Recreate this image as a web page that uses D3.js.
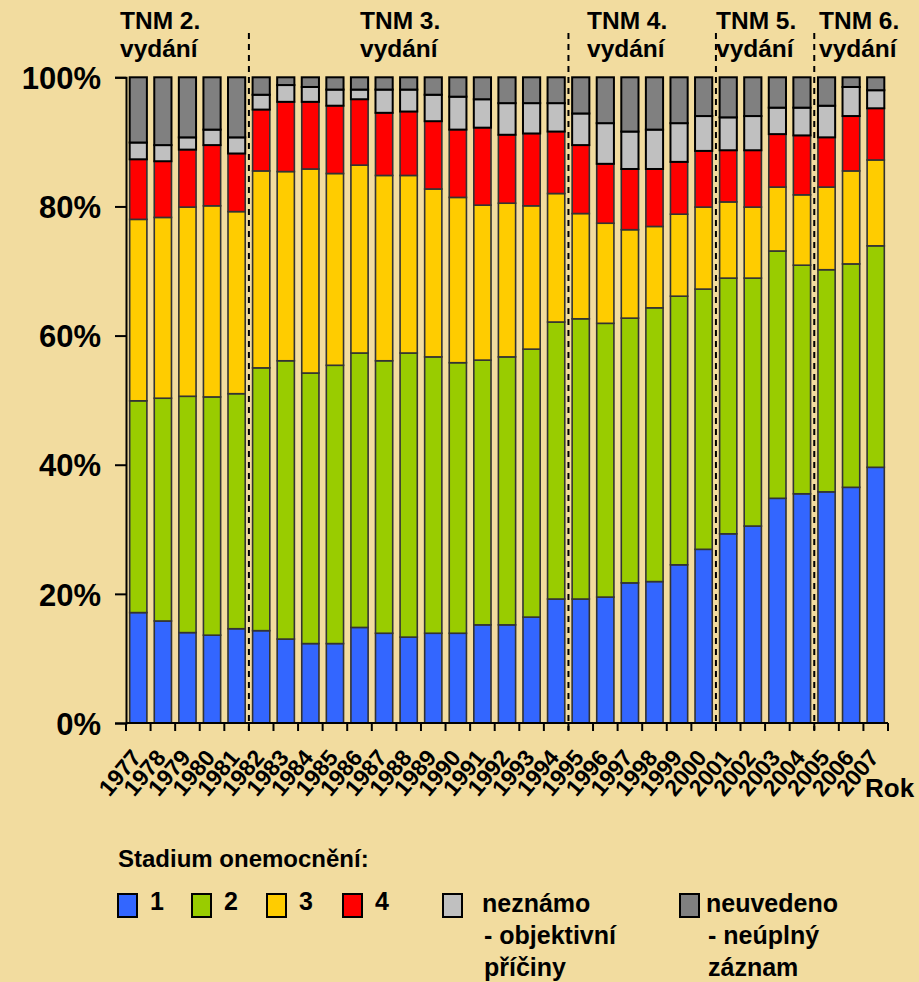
<!DOCTYPE html>
<html>
<head>
<meta charset="utf-8">
<script src="https://cdn.jsdelivr.net/npm/d3@7"></script>
<style>
	body { margin: 0; background: #F2DC9F; }
	svg { display: block; font-family: "Liberation Sans", Arial, sans-serif; }
</style>
</head>
<body>
<div id="chart"></div>
<script>
//years on the x axis
var years = d3.range(1977, 2008).map(String);

//share of each stage per year (percent)
var stage1 = [17.1,15.8,14.0,13.6,14.6,14.3,13.0,12.3,12.3,14.8,13.9,13.3,13.9,13.9,15.2,15.2,16.4,19.2,19.2,19.5,21.7,21.9,24.5,26.9,29.3,30.5,34.8,35.5,35.8,36.5,39.6];
var stage2 = [32.8,34.5,36.6,36.9,36.4,40.7,43.1,41.9,43.1,42.5,42.2,44.0,42.8,41.9,41.0,41.5,41.5,42.9,43.4,42.4,41.0,42.4,41.6,40.3,39.6,38.4,38.3,35.4,34.4,34.6,34.3];
var stage3 = [28.1,28.0,29.3,29.6,28.2,30.5,29.3,31.6,29.7,29.1,28.7,27.5,26.0,25.6,24.0,23.8,22.2,19.9,16.3,15.5,13.7,12.6,12.7,12.7,11.8,11.0,9.9,10.9,12.8,14.4,13.3];
var stage4 = [9.3,8.7,8.9,9.4,9.0,9.5,10.8,10.4,10.5,10.2,9.7,9.9,10.5,10.5,12.0,10.6,11.2,9.6,10.6,9.2,9.4,8.9,8.1,8.7,8.0,8.8,8.2,9.2,7.7,8.5,8.0];
var unknown = [2.6,2.5,1.9,2.4,2.5,2.3,2.6,2.3,2.5,1.5,3.6,3.4,4.1,5.1,4.4,4.9,4.7,4.4,4.9,6.3,5.8,6.1,6.0,5.4,5.1,5.3,4.1,4.3,4.9,4.5,2.8];
var notGiven = [10.1,10.5,9.3,8.1,9.3,2.7,1.2,1.5,1.9,1.9,1.9,1.9,2.7,3.0,3.4,4.0,4.0,4.0,5.6,7.1,8.4,8.1,7.1,6.0,6.2,6.0,4.7,4.7,4.4,1.5,2.0];

var seriesKeys = ["1", "2", "3", "4", "neznamo", "neuvedeno"];
var seriesColors = ["#3366FF", "#99CC00", "#FFCC00", "#FF0000", "#C0C0C0", "#808080"];

//TNM editions: first year of each edition and its label
var editionStart = ["1977", "1982", "1995", "2001", "2005"];
var editionLabels = ["TNM 2.", "TNM 3.", "TNM 4.", "TNM 5.", "TNM 6."];

var yTicks = [0, 20, 40, 60, 80, 100];

function init(){
	chart();
}

function chart(){
	var width = 919;
	var height = 982;
	var left = 126, right = 888, top = 77.3, bottom = 723;

	var svg = d3.select("#chart").append("svg")
				.attr("width", width)
				.attr("height", height);

	svg.append("rect").attr("width", width).attr("height", height).attr("fill", "#F2DC9F");

	//build rows for the stack
	var rows = years.map(function(y, i){
		return {year: y, "1": stage1[i], "2": stage2[i], "3": stage3[i], "4": stage4[i],
				neznamo: unknown[i], neuvedeno: notGiven[i]};
	});

	var x = d3.scaleBand().domain(years).range([left, right])
			  .paddingInner(0.3).paddingOuter(0.15);
	var y = d3.scaleLinear().domain([0, 100]).range([bottom, top]);
	var step = x.step();

	var stack = d3.stack().keys(seriesKeys);
	var layers = stack(rows);

	//bars
	var groups = svg.selectAll("g.layer").data(layers).enter()
					.append("g")
					.attr("class", "layer")
					.attr("fill", (d, i) => seriesColors[i])
					.attr("stroke", (d, i) => i >= 4 ? "#000" : "#333")
					.attr("stroke-width", (d, i) => i >= 4 ? 2 : 1.6);

	groups.selectAll("rect").data(d => d).enter()
		  .append("rect")
		  .attr("x", d => x(d.data.year))
		  .attr("width", x.bandwidth())
		  .attr("y", d => y(d[1]))
		  .attr("height", d => y(d[0]) - y(d[1]));

	//y axis
	var yAxis = svg.append("g")
				   .attr("transform", "translate(" + left + ",0)")
				   .call(d3.axisLeft(y).tickValues(yTicks).tickSize(11).tickPadding(14)
						 .tickFormat(d => d + "%"));
	yAxis.select(".domain").attr("stroke", "#000").attr("stroke-width", 2);
	yAxis.selectAll(".tick line").attr("stroke", "#000").attr("stroke-width", 2);
	yAxis.selectAll(".tick text")
		 .attr("fill", "#000")
		 .style("font-size", "31px")
		 .style("font-weight", "bold")
		 .attr("dy", "0.36em");

	//x axis line with ticks between categories
	svg.append("line")
	   .attr("x1", left).attr("x2", right)
	   .attr("y1", bottom).attr("y2", bottom)
	   .attr("stroke", "#000").attr("stroke-width", 2);

	svg.selectAll("line.xtick").data(d3.range(years.length + 1)).enter()
	   .append("line")
	   .attr("class", "xtick")
	   .attr("x1", d => left + d * step).attr("x2", d => left + d * step)
	   .attr("y1", bottom).attr("y2", bottom + 8)
	   .attr("stroke", "#000").attr("stroke-width", 2);

	//rotated year labels
	svg.selectAll("text.year").data(years).enter()
	   .append("text")
	   .attr("class", "year")
	   .attr("transform", d => "translate(" + (x(d) + x.bandwidth() / 2 - 2) + "," + (bottom + 30) + ") rotate(-50)")
	   .attr("text-anchor", "end")
	   .attr("dy", "0.35em")
	   .style("font-size", "23px")
	   .style("font-weight", "bold")
	   .text(d => d);

	svg.append("text")
	   .attr("x", 865).attr("y", 797)
	   .style("font-size", "26px")
	   .style("font-weight", "bold")
	   .text("Rok");

	//dashed edition separators
	svg.selectAll("line.edition").data(editionStart.slice(1)).enter()
	   .append("line")
	   .attr("class", "edition")
	   .attr("x1", d => x(d) - step * 0.15).attr("x2", d => x(d) - step * 0.15)
	   .attr("y1", 33).attr("y2", bottom + 7)
	   .attr("stroke", "#000").attr("stroke-width", 2)
	   .attr("stroke-dasharray", "6,5");

	//edition headings
	var headX = [120, 360, 587, 716, 819];
	var heads = svg.selectAll("g.head").data(editionLabels).enter()
				   .append("g")
				   .attr("class", "head")
				   .attr("transform", (d, i) => "translate(" + headX[i] + ",0)");
	heads.append("text").attr("y", 29).text(d => d);
	heads.append("text").attr("y", 57).text("vydání");
	heads.selectAll("text")
		 .style("font-size", "24.5px")
		 .style("font-weight", "bold");

	//legend
	var legend = svg.append("g").style("font-weight", "bold");
	legend.append("text")
		  .attr("x", 118).attr("y", 867)
		  .style("font-size", "24px")
		  .text("Stadium onemocnění:");

	var legendItems = [
		{x: 118, tx: 32, lines: ["1"]},
		{x: 192, tx: 32, lines: ["2"]},
		{x: 267, tx: 32, lines: ["3"]},
		{x: 343, tx: 32, lines: ["4"]},
		{x: 443, tx: 39, lines: ["neznámo", "- objektivní", "příčiny"]},
		{x: 680, tx: 26, lines: ["neuvedeno", "- neúplný", "záznam"]}
	];

	var item = legend.selectAll("g.item").data(legendItems).enter()
					 .append("g")
					 .attr("class", "item")
					 .attr("transform", d => "translate(" + d.x + ",894)");

	item.append("rect")
		.attr("width", 19).attr("height", 23)
		.attr("fill", (d, i) => seriesColors[i])
		.attr("stroke", "#000").attr("stroke-width", 2);

	item.each(function(d, i){
		var g = d3.select(this);
		d.lines.forEach(function(line, j){
			g.append("text")
			 .attr("x", d.tx + (j == 0 ? 0 : 2))
			 .attr("y", i < 4 ? 16 : 18 + j * 32)
			 .style("font-size", "25px")
			 .text(line);
		});
	});
}

window.onload = init;
</script>
</body>
</html>
